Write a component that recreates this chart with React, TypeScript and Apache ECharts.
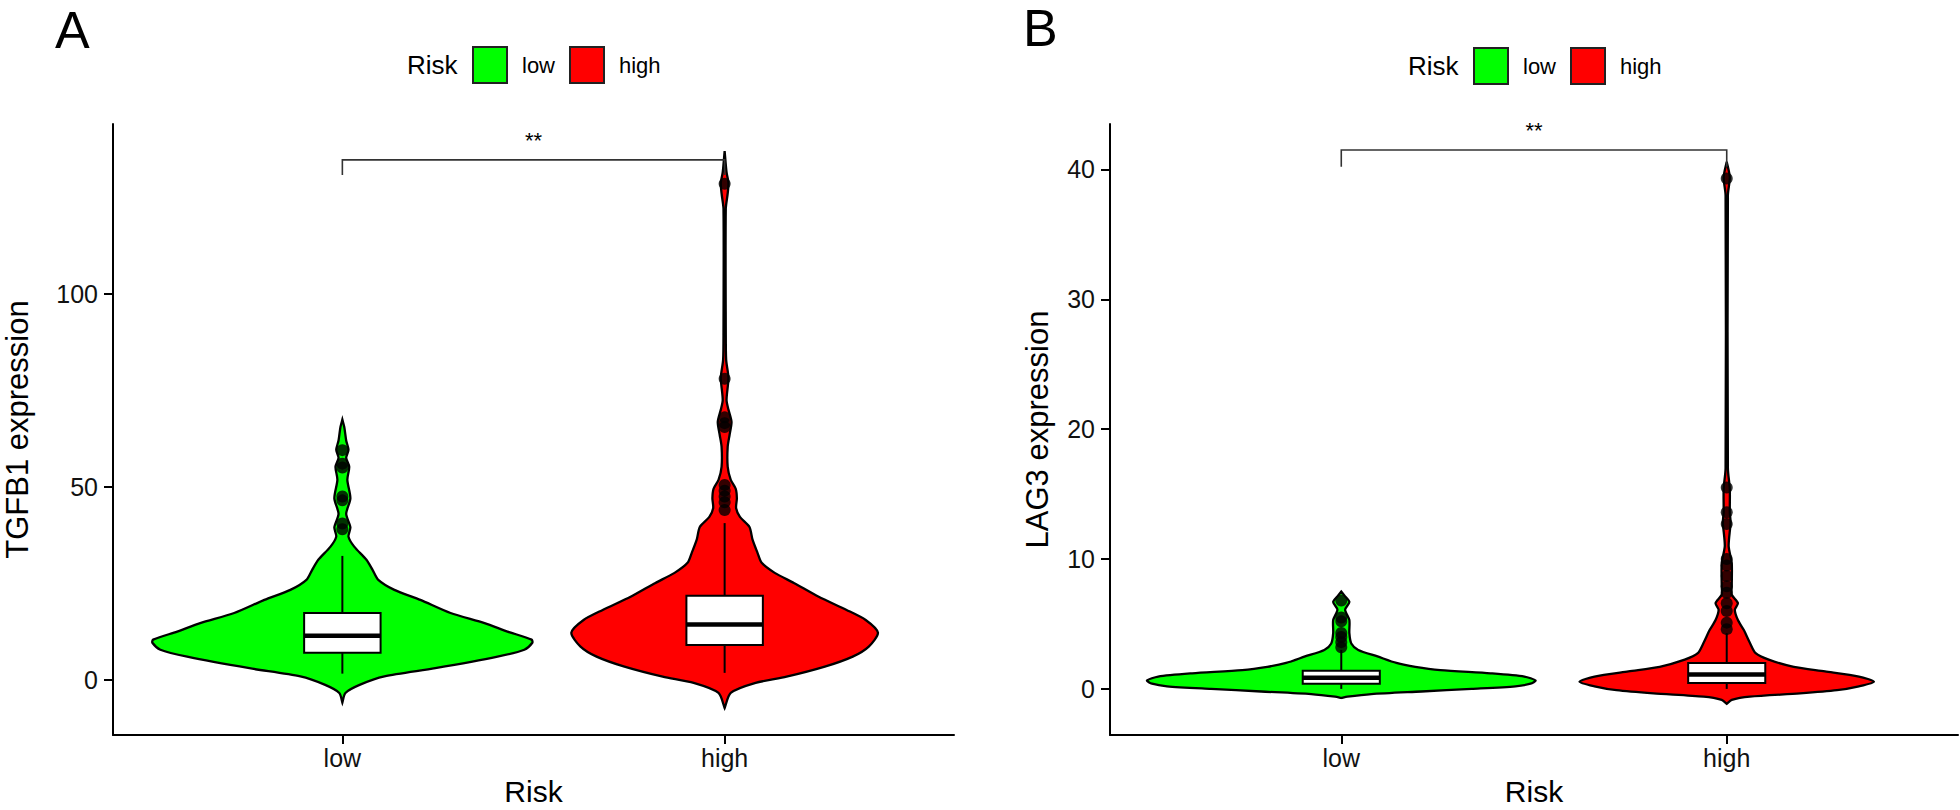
import React, { useEffect, useRef } from "react";
import * as echarts from "echarts";

// ---------- data ----------
const groups = ["low", "high"];
const groupColors = ["#00FF00", "#FF0000"];
const legendTitle = "Risk";
const xTitle = "Risk";
const panelLetters = ["A", "B"];
const yTitles = ["TGFB1 expression", "LAG3 expression"];
const yTicksA = [0, 50, 100];
const yTicksB = [0, 10, 20, 30, 40];
const xTicks = [1, 2];
const sigLabel = "**";

// violin outlines: [value, half-width in x-axis units]
const violinALow = [
  [-5.9, 0], [-3.4, 0.008], [-1.3, 0.045], [0.9, 0.11], [3.0, 0.243], [6.0, 0.406],
  [7.8, 0.476], [9.6, 0.497], [10.4, 0.495], [12.5, 0.432], [14.7, 0.372], [17.3, 0.283],
  [20.7, 0.204], [23.3, 0.136], [25.9, 0.094], [28.5, 0.079], [31.1, 0.063], [34.5, 0.031],
  [37.1, 0.016], [39.5, 0.021], [43, 0.01], [47, 0.021], [51.8, 0.013], [55.2, 0.018],
  [57.5, 0.01], [59.6, 0.016], [62, 0.01], [65.5, 0.005], [67.4, 0],
];
const violinAHigh = [
  [-7.3, 0], [-3.4, 0.016], [-0.8, 0.081], [0.8, 0.162], [3.4, 0.262], [6.0, 0.335],
  [8.6, 0.377], [12.2, 0.401], [15.5, 0.369], [18.1, 0.319], [21.5, 0.246], [25.1, 0.181],
  [27.7, 0.131], [30.3, 0.097], [32.9, 0.086], [36.3, 0.073], [39.6, 0.065], [42.2, 0.04],
  [44.5, 0.03], [47, 0.032], [49.5, 0.029], [51.8, 0.016], [55.2, 0.008], [60.4, 0.008],
  [63.5, 0.013], [66.8, 0.018], [70, 0.01], [72.5, 0.005], [78.2, 0.01], [82.9, 0.004],
  [90, 0.003], [122, 0.003], [126, 0.008], [128.8, 0.01], [131.5, 0.005], [137, 0],
];
const violinBLow = [
  [-0.7, 0], [-0.6, 0.016], [-0.4, 0.078], [-0.2, 0.208], [0.0, 0.338], [0.2, 0.452],
  [0.4, 0.491], [0.65, 0.504], [0.95, 0.475], [1.2, 0.387], [1.45, 0.257], [1.7, 0.192],
  [2.0, 0.143], [2.5, 0.094], [3.0, 0.044], [3.5, 0.026], [4.3, 0.021], [5.3, 0.021],
  [6.1, 0.01], [6.7, 0.021], [7.2, 0.008], [7.5, 0],
];
const violinBHigh = [
  [-1.15, 0], [-0.85, 0.013], [-0.6, 0.06], [-0.35, 0.19], [-0.1, 0.286], [0.2, 0.343],
  [0.55, 0.382], [0.95, 0.343], [1.35, 0.255], [1.7, 0.174], [2.25, 0.109], [2.75, 0.075],
  [3.55, 0.06], [4.55, 0.044], [5.3, 0.029], [6.1, 0.021], [6.6, 0.029], [7.25, 0.013],
  [7.9, 0.013], [9.7, 0.013], [11.0, 0.005], [12.8, 0.01], [13.6, 0.008], [15.4, 0.008],
  [17, 0.003], [38, 0.003], [39.4, 0.008], [40.6, 0],
];

// box stats: [lower whisker, q1, median, q3, upper whisker]
const boxALow = [1.6, 7.0, 11.4, 17.3, 32.1];
const boxAHigh = [1.8, 9.0, 14.3, 21.8, 40.6];
const boxBLow = [0.0, 0.4, 0.85, 1.4, 3.0];
const boxBHigh = [0.0, 0.45, 1.1, 2.0, 4.3];

const outliersALow = [59.5, 56, 55, 47.5, 46.5, 40.5, 39];
const outliersAHigh = [128.5, 78, 68, 66.5, 65.5, 50.5, 49, 47.5, 46, 44];
const outliersBLow = [6.8, 5.5, 5.2, 4.3, 4.0, 3.6, 3.2];
const outliersBHigh = [39.3, 15.5, 13.6, 12.7, 10.0, 9.5, 8.7, 7.9, 7.4, 6.6, 6.0, 5.1, 4.6];

// significance bracket: [top value, leg end value]
const bracketA = [134.7, 130.8];
const bracketB = [41.5, 40.2];

// ---------- layout ----------
const FONT = "'Liberation Sans', Arial, Helvetica, sans-serif";
const panels = [
  {
    grid: { left: 113, top: 124, width: 841, height: 611 },
    yMin: -14.3, yMax: 144, yTicks: yTicksA, yTitle: yTitles[0], nameGap: 82,
    violins: [violinALow, violinAHigh], boxes: [boxALow, boxAHigh],
    outliers: [outliersALow, outliersAHigh], bracket: bracketA,
    letter: { x: 55, y: 4 }, legendX: 407, legendY: 65,
  },
  {
    grid: { left: 1110, top: 124, width: 848, height: 611 },
    yMin: -3.55, yMax: 43.5, yTicks: yTicksB, yTitle: yTitles[1], nameGap: 59,
    violins: [violinBLow, violinBHigh], boxes: [boxBLow, boxBHigh],
    outliers: [outliersBLow, outliersBHigh], bracket: bracketB,
    letter: { x: 1023, y: 2 }, legendX: 1408, legendY: 66,
  },
];

function buildOption() {
  const grid: any[] = [];
  const xAxis: any[] = [];
  const yAxis: any[] = [];
  const series: any[] = [];
  const graphic: any[] = [];

  panels.forEach((p, pi) => {
    grid.push({ ...p.grid, containLabel: false, outerBoundsMode: "none" });
    xAxis.push({
      gridIndex: pi, type: "value", min: 0.4, max: 2.6,
      splitLine: { show: false },
      axisLine: { show: true, onZero: false, lineStyle: { color: "#000", width: 2 } },
      axisTick: { show: true, length: 9, customValues: xTicks, lineStyle: { color: "#000", width: 2 } },
      axisLabel: {
        customValues: xTicks, fontSize: 25, color: "#111", margin: 10, fontFamily: FONT,
        formatter: (v: number) => groups[Math.round(v) - 1] ?? "",
      },
      name: xTitle, nameLocation: "middle", nameGap: 42,
      nameTextStyle: { fontSize: 30, lineHeight: 28, color: "#000", fontFamily: FONT },
    });
    yAxis.push({
      gridIndex: pi, type: "value", min: p.yMin, max: p.yMax,
      splitLine: { show: false },
      axisLine: { show: true, onZero: false, lineStyle: { color: "#000", width: 2 } },
      axisTick: { show: true, length: 9, customValues: p.yTicks, lineStyle: { color: "#000", width: 2 } },
      axisLabel: { customValues: p.yTicks, fontSize: 25, color: "#111", margin: 15, fontFamily: FONT },
      name: p.yTitle, nameLocation: "middle", nameGap: p.nameGap,
      nameTextStyle: { fontSize: 31, lineHeight: 28, color: "#000", fontFamily: FONT },
    });

    // violins
    series.push({
      type: "custom", xAxisIndex: pi, yAxisIndex: pi,
      data: groups.map((g, i) => [i + 1, p.violins[i][0][0]]),
      renderItem: (params: any, api: any) => {
        const i = params.dataIndex;
        const cx = i + 1;
        const prof = p.violins[i];
        const left = prof.map(([v, w]) => api.coord([cx - w, v]));
        const right = prof.slice().reverse().map(([v, w]) => api.coord([cx + w, v]));
        return {
          type: "polygon",
          shape: { points: left.concat(right), smooth: 0.25 },
          style: { fill: groupColors[i], stroke: "#000", lineWidth: 2.3 },
        };
      },
      z: 1,
    });

    // boxes
    series.push({
      type: "custom", xAxisIndex: pi, yAxisIndex: pi,
      data: groups.map((g, i) => [i + 1, p.boxes[i][2]]),
      renderItem: (params: any, api: any) => {
        const i = params.dataIndex;
        const cx = i + 1;
        const [mn, q1, md, q3, mx] = p.boxes[i];
        const hw = 0.1;
        const tl = api.coord([cx - hw, q3]);
        const br = api.coord([cx + hw, q1]);
        const top = api.coord([cx, mx]);
        const bot = api.coord([cx, mn]);
        const mL = api.coord([cx - hw, md]);
        const mR = api.coord([cx + hw, md]);
        return {
          type: "group",
          children: [
            { type: "line", shape: { x1: top[0], y1: top[1], x2: top[0], y2: tl[1] }, style: { stroke: "#000", lineWidth: 2 } },
            { type: "line", shape: { x1: bot[0], y1: br[1], x2: bot[0], y2: bot[1] }, style: { stroke: "#000", lineWidth: 2 } },
            { type: "rect", shape: { x: tl[0], y: tl[1], width: br[0] - tl[0], height: br[1] - tl[1] }, style: { fill: "#fff", stroke: "#000", lineWidth: 2 } },
            { type: "line", shape: { x1: mL[0], y1: mL[1], x2: mR[0], y2: mR[1] }, style: { stroke: "#000", lineWidth: 4.5 } },
          ],
        };
      },
      z: 2,
    });

    // outliers
    series.push({
      type: "scatter", xAxisIndex: pi, yAxisIndex: pi,
      data: groups.flatMap((g, i) => p.outliers[i].map((v) => [i + 1, v])),
      symbol: "circle", symbolSize: 12,
      itemStyle: { color: "#000" },
      z: 3,
    });

    // significance bracket
    series.push({
      type: "custom", xAxisIndex: pi, yAxisIndex: pi,
      data: [[1.5, p.bracket[0]]],
      renderItem: (params: any, api: any) => {
        const a = api.coord([1, p.bracket[1]]);
        const b = api.coord([1, p.bracket[0]]);
        const c = api.coord([2, p.bracket[0]]);
        const d = api.coord([2, p.bracket[1]]);
        const m = api.coord([1.5, p.bracket[0]]);
        return {
          type: "group",
          children: [
            { type: "polyline", shape: { points: [a, b, c, d] }, style: { stroke: "#333", lineWidth: 1.6, fill: null } },
            { type: "text", x: m[0], y: m[1] - 19, style: { text: sigLabel, fontSize: 22, fill: "#000", align: "center", verticalAlign: "middle", fontFamily: FONT } },
          ],
        };
      },
      z: 4,
    });

    // panel letter
    graphic.push({
      type: "text", left: p.letter.x, top: p.letter.y,
      style: { text: panelLetters[pi], fontSize: 52, lineHeight: 52, fill: "#000", fontFamily: FONT },
    });
    // legend
    const ly = p.legendY;
    graphic.push({
      type: "text", x: p.legendX, y: ly,
      style: { text: legendTitle, fontSize: 26, fill: "#000", verticalAlign: "middle", fontFamily: FONT },
    });
    const boxXs = [p.legendX + 66, p.legendX + 163];
    groups.forEach((g, i) => {
      graphic.push({
        type: "rect", shape: { x: boxXs[i], y: ly - 18, width: 34, height: 36 },
        style: { fill: groupColors[i], stroke: "#222", lineWidth: 2 },
      });
      graphic.push({
        type: "text", x: boxXs[i] + 49, y: ly,
        style: { text: g, fontSize: 22, fill: "#000", verticalAlign: "middle", fontFamily: FONT },
      });
    });
  });

  return {
    animation: false,
    backgroundColor: "#fff",
    textStyle: { fontFamily: FONT },
    grid, xAxis, yAxis, series, graphic,
  };
}

export default function App() {
  const ref = useRef<HTMLDivElement>(null);
  useEffect(() => {
    if (!ref.current) return;
    const chart = echarts.init(ref.current, undefined, { renderer: "svg" });
    chart.setOption(buildOption() as any);
    return () => chart.dispose();
  }, []);
  return (
    <div
      ref={ref}
      style={{ position: "fixed", left: 0, top: 0, width: 1960, height: 810, background: "#fff" }}
    />
  );
}
